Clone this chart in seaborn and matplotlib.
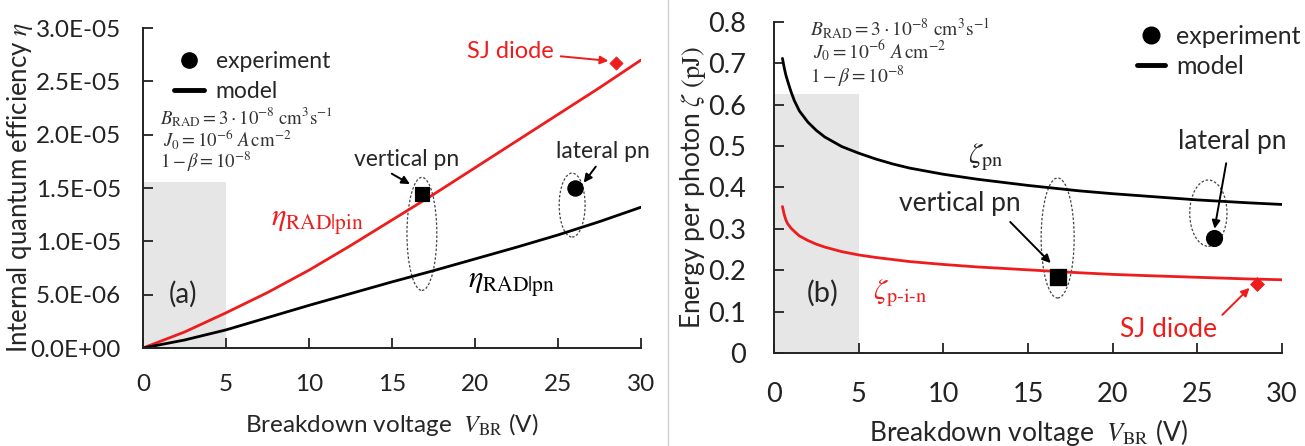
import numpy as np
import pandas as pd
import matplotlib
matplotlib.use("Agg")
import matplotlib.pyplot as plt
import seaborn as sns
from matplotlib.patches import Ellipse, Rectangle
from matplotlib.lines import Line2D
from matplotlib.ticker import FuncFormatter, MultipleLocator

# ---------------- data ----------------
# panel (a): internal quantum efficiency vs breakdown voltage
v_a = [0, 2.5, 5, 7.5, 10, 12.5, 15, 17.5, 20, 22.5, 25, 27.5, 30]
eta_pin = [0, 1.5e-6, 3.3e-6, 5.2e-6, 7.3e-6, 9.6e-6, 1.20e-5, 1.44e-5,
           1.69e-5, 1.94e-5, 2.19e-5, 2.44e-5, 2.70e-5]
eta_pn = [0, 0.75e-6, 1.7e-6, 2.85e-6, 4.0e-6, 5.1e-6, 6.2e-6, 7.25e-6,
          8.35e-6, 9.45e-6, 1.06e-5, 1.185e-5, 1.32e-5]

# panel (b): energy per photon vs breakdown voltage
v_b = [0.5, 0.6, 0.7, 0.8, 1.0, 1.2, 1.5, 2, 2.5, 3, 4, 5, 6, 7, 8, 10,
       12, 15, 18, 20, 22, 25, 28, 30]
zeta_pn = [0.712, 0.690, 0.672, 0.658, 0.632, 0.610, 0.585, 0.558, 0.538,
           0.522, 0.499, 0.483, 0.469, 0.457, 0.447, 0.432, 0.420, 0.405,
           0.392, 0.385, 0.379, 0.370, 0.363, 0.359]
zeta_pin = [0.354, 0.335, 0.322, 0.313, 0.302, 0.294, 0.283, 0.272, 0.263,
            0.256, 0.245, 0.237, 0.231, 0.226, 0.221, 0.214, 0.208, 0.201,
            0.194, 0.190, 0.187, 0.183, 0.179, 0.177]

# experiments: vertical pn, lateral pn, SJ diode
exp_names = ["vertical pn", "lateral pn", "SJ diode"]
exp_v = [16.8, 26.0, 28.5]
exp_eta = [1.44e-5, 1.50e-5, 2.67e-5]
exp_zeta = [0.184, 0.277, 0.167]

x_ticks = [0, 5, 10, 15, 20, 25, 30]

# ---------------- style ----------------
sns.set_theme(style="ticks")
plt.rcParams["font.family"] = ["Lato", "DejaVu Sans"]
plt.rcParams["mathtext.fontset"] = "stix"
plt.rcParams["axes.linewidth"] = 1.4
plt.rcParams["axes.edgecolor"] = "#222222"

RED = "#ee1c1c"
GRAY = "#e6e6e6"

fig = plt.figure(figsize=(13.05, 4.46), dpi=100)
ax1 = fig.add_axes([0.1096, 0.2197, 0.3816, 0.7175])
ax2 = fig.add_axes([0.5931, 0.2085, 0.3893, 0.7422])

df_a = pd.DataFrame({"V": v_a, "pin": eta_pin, "pn": eta_pn})
df_b = pd.DataFrame({"V": v_b, "pin": zeta_pin, "pn": zeta_pn})
df_e = pd.DataFrame({"V": exp_v, "eta": exp_eta, "zeta": exp_zeta,
                     "name": exp_names})

ell_kw = dict(fill=False, ls=(0, (2, 1.5)), lw=0.9, ec="#444444")


def arrow(color="black", **kw):
    d = dict(arrowstyle="-|>", color=color, lw=1.4, shrinkA=1, shrinkB=1,
             mutation_scale=12)
    d.update(kw)
    return d


# ================= panel (a) =================
ax = ax1
ax.add_patch(Rectangle((0, 0), 5, 1.56e-5, color=GRAY, zorder=0, lw=0))
sns.lineplot(data=df_a, x="V", y="pin", ax=ax, color=RED, lw=2.0)
sns.lineplot(data=df_a, x="V", y="pn", ax=ax, color="black", lw=2.0)
sns.scatterplot(data=df_e.iloc[[0]], x="V", y="eta", ax=ax, marker="s", s=110,
                color="black", edgecolor="black", zorder=5)
sns.scatterplot(data=df_e.iloc[[1]], x="V", y="eta", ax=ax, marker="o", s=120,
                color="black", edgecolor="black", zorder=5)
sns.scatterplot(data=df_e.iloc[[2]], x="V", y="eta", ax=ax, marker="D", s=45,
                color=RED, edgecolor=RED, zorder=5)

ax.add_patch(Ellipse((16.8, 1.07e-5), 1.8, 1.06e-5, **ell_kw))
ax.add_patch(Ellipse((25.85, 1.34e-5), 1.56, 0.60e-5, **ell_kw))

ax.set_xlim(0, 30)
ax.set_ylim(0, 3.0e-5)
ax.set_xticks(x_ticks)
ax.yaxis.set_major_locator(MultipleLocator(5e-6))
ax.yaxis.set_major_formatter(FuncFormatter(lambda v, p: f"{v:.1E}"))
ax.tick_params(direction="in", length=7, width=1.3, labelsize=17.5,
               colors="#222222")
ax.tick_params(axis="y", pad=16)
ax.tick_params(axis="x", pad=19)
ax.set_xlabel(r"Breakdown voltage  $V_{\rm BR}$ (V)", fontsize=17.5, labelpad=11)
ax.set_ylabel(r"Internal quantum efficiency $\eta$", fontsize=18.5, labelpad=-3)
sns.despine(ax=ax)

ax.annotate("SJ diode", xy=(28.2, 2.69e-5), xytext=(22.1, 2.78e-5),
            color=RED, fontsize=17, ha="center", va="center",
            arrowprops=arrow(RED, shrinkA=3, shrinkB=2))
ax.annotate("vertical pn", xy=(16.15, 1.53e-5), xytext=(15.9, 1.77e-5),
            fontsize=16.5, ha="center", va="center",
            arrowprops=arrow(relpos=(0.29, 0.0)))
ax.annotate("lateral pn", xy=(26.5, 1.54e-5), xytext=(27.7, 1.84e-5),
            fontsize=16.5, ha="center", va="center",
            arrowprops=arrow(relpos=(0.46, 0.0)))
ax.text(10.5, 1.17e-5, r"$\eta_{\rm RAD|pin}$", color=RED, fontsize=22,
        ha="center", va="center")
ax.text(22.2, 5.9e-6, r"$\eta_{\rm RAD|pn}$", color="black", fontsize=22,
        ha="center", va="center")
ax.text(2.4, 5.0e-6, "(a)", fontsize=20, ha="center", va="center")
math_a = dict(fontsize=13.5, color="#333333", ha="left", va="baseline")
ax.text(1.0, 2.10e-5, r"$B_{\rm RAD} = 3 \cdot 10^{-8}\ {\rm cm^3 s^{-1}}$", **math_a)
ax.text(1.2, 1.885e-5, r"$J_0 = 10^{-6}\ A\,{\rm cm^{-2}}$", **math_a)
ax.text(1.0, 1.69e-5, r"$1 - \beta = 10^{-8}$", **math_a)
ax.legend(handles=[Line2D([], [], marker="o", ls="", color="black", ms=11),
                   Line2D([], [], color="black", lw=3.5)],
          labels=["experiment", "model"], loc="upper left",
          bbox_to_anchor=(0.04, 0.965), frameon=False, fontsize=16.5,
          handlelength=1.3, handletextpad=0.5, borderpad=0, labelspacing=0.4)

# ================= panel (b) =================
ax = ax2
ax.add_patch(Rectangle((0, 0), 5, 0.626, color=GRAY, zorder=0, lw=0))
sns.lineplot(data=df_b, x="V", y="pn", ax=ax, color="black", lw=2.0)
sns.lineplot(data=df_b, x="V", y="pin", ax=ax, color=RED, lw=2.0)
sns.scatterplot(data=df_e.iloc[[0]], x="V", y="zeta", ax=ax, marker="s", s=140,
                color="black", edgecolor="black", zorder=5)
sns.scatterplot(data=df_e.iloc[[1]], x="V", y="zeta", ax=ax, marker="o", s=130,
                color="black", edgecolor="black", zorder=5)
sns.scatterplot(data=df_e.iloc[[2]], x="V", y="zeta", ax=ax, marker="D", s=50,
                color=RED, edgecolor=RED, zorder=5)

ax.add_patch(Ellipse((16.75, 0.278), 1.95, 0.29, **ell_kw))
ax.add_patch(Ellipse((25.65, 0.338), 2.2, 0.16, **ell_kw))

ax.set_xlim(0, 30)
ax.set_ylim(0, 0.8)
ax.set_xticks(x_ticks)
ax.yaxis.set_major_locator(MultipleLocator(0.1))
ax.yaxis.set_major_formatter(FuncFormatter(
    lambda v, p: "0" if abs(v) < 1e-9 else f"{v:.1f}"))
ax.tick_params(direction="in", length=7, width=1.3, labelsize=19.5,
               colors="#222222")
ax.tick_params(axis="y", pad=20)
ax.tick_params(axis="x", pad=21)
ax.set_xlabel(r"Breakdown voltage  $V_{\rm BR}$ (V)", fontsize=19, labelpad=7)
ax.set_ylabel(r"Energy per photon $\zeta$ $\rm (pJ)$", fontsize=19, labelpad=0)
sns.despine(ax=ax)

ax.annotate("SJ diode", xy=(28.2, 0.162), xytext=(23.3, 0.056),
            color=RED, fontsize=19, ha="center", va="center",
            arrowprops=arrow(RED, shrinkA=2, shrinkB=2, relpos=(0.95, 0.7)))
ax.annotate("vertical pn", xy=(16.4, 0.215), xytext=(11.0, 0.362),
            fontsize=19, ha="center", va="center",
            arrowprops=arrow(shrinkA=3, relpos=(0.86, 0.0)))
ax.annotate("lateral pn", xy=(26.0, 0.297), xytext=(27.05, 0.51),
            fontsize=19, ha="center", va="center",
            arrowprops=arrow(shrinkA=4, relpos=(0.46, 0.0)))
ax.text(12.5, 0.474, r"$\zeta_{\rm pn}$", fontsize=21, ha="center", va="center")
ax.text(7.45, 0.145, r"$\zeta_{\rm p\text{-}i\text{-}n}$", color=RED, fontsize=21,
        ha="center", va="center")
ax.text(2.85, 0.145, "(b)", fontsize=21, ha="center", va="center")
math_b = dict(fontsize=14, color="#333333", ha="left", va="baseline")
ax.text(2.1, 0.766, r"$B_{\rm RAD} = 3 \cdot 10^{-8}\ {\rm cm^3 s^{-1}}$", **math_b)
ax.text(2.3, 0.711, r"$J_0 = 10^{-6}\ A\,{\rm cm^{-2}}$", **math_b)
ax.text(2.1, 0.653, r"$1 - \beta = 10^{-8}$", **math_b)
ax.legend(handles=[Line2D([], [], marker="o", ls="", color="black", ms=12),
                   Line2D([], [], color="black", lw=3.5)],
          labels=["experiment", "model"], loc="upper left",
          bbox_to_anchor=(0.69, 1.03), frameon=False, fontsize=18,
          handlelength=1.1, handletextpad=0.45, borderpad=0, labelspacing=0.3)

# separator between panels
fig.add_artist(Line2D([668 / 1305, 668 / 1305], [0, 1], color="#d0d0d0",
                      lw=1.0, transform=fig.transFigure))

fig.savefig("out.png", dpi=100)
